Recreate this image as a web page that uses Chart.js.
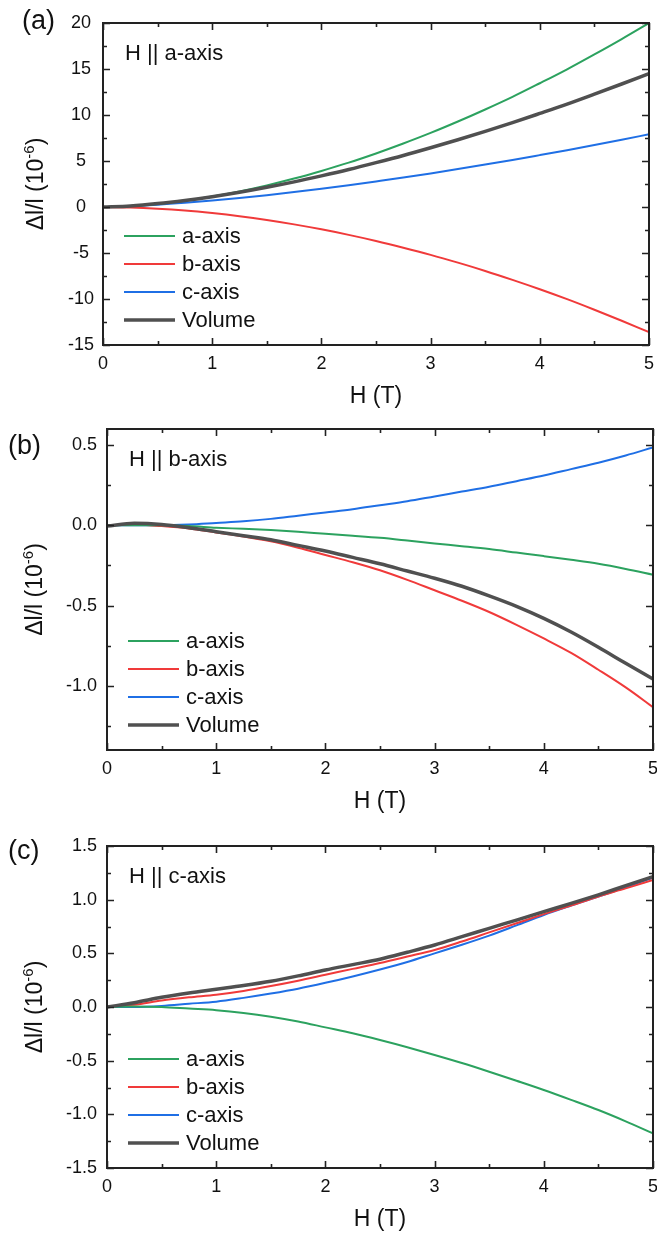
<!DOCTYPE html>
<html><head><meta charset="utf-8">
<script src="https://cdn.jsdelivr.net/npm/chart.js@4.4.1/dist/chart.umd.min.js"></script>
<style>
html,body{margin:0;padding:0;background:#fff;}
#wrap{position:relative;width:657px;height:1235px;overflow:hidden;background:#fff;}
canvas{position:absolute;left:0;}
</style></head><body>
<div id="wrap">
<canvas id="ca" width="657" height="410" style="top:0px"></canvas>
<canvas id="cb" width="657" height="412" style="top:410px"></canvas>
<canvas id="cc" width="657" height="413" style="top:822px"></canvas>
</div>
<script>
// ---------- data ----------
const fieldH = [0,0.25,0.5,0.75,1,1.25,1.5,1.75,2,2.25,2.5,2.75,3,3.25,3.5,3.75,4,4.25,4.5,4.75,5];
const seriesNames = ['a-axis','b-axis','c-axis','Volume'];
const seriesColors = ['#2ca25f','#f03a3a','#1f6fe5','#505050'];

// (a) H || a-axis
const aPanelA = [0,0.10,0.33,0.68,1.14,1.70,2.35,3.09,3.92,4.82,5.82,6.90,8.05,9.29,10.60,11.97,13.45,14.97,16.59,18.26,20.0];
const aPanelB = [0,-0.05,-0.18,-0.38,-0.66,-1.00,-1.41,-1.89,-2.43,-3.03,-3.69,-4.42,-5.20,-6.05,-6.95,-7.92,-8.94,-10.02,-11.17,-12.36,-13.6];
const aPanelC = [0,0.09,0.24,0.45,0.70,0.97,1.28,1.62,1.98,2.37,2.78,3.20,3.65,4.12,4.61,5.11,5.64,6.18,6.74,7.31,7.9];
const aPanelV = [0,0.12,0.37,0.71,1.12,1.60,2.14,2.73,3.38,4.07,4.82,5.60,6.44,7.31,8.22,9.17,10.17,11.19,12.27,13.37,14.5];

// (b) H || b-axis
const bPanelA = [0,0,0,-0.005,-0.015,-0.022,-0.03,-0.04,-0.053,-0.065,-0.078,-0.095,-0.113,-0.13,-0.148,-0.17,-0.192,-0.215,-0.24,-0.272,-0.308];
const bPanelB = [0,0.005,-0.005,-0.02,-0.045,-0.07,-0.10,-0.14,-0.185,-0.23,-0.28,-0.34,-0.405,-0.47,-0.54,-0.62,-0.705,-0.795,-0.9,-1.01,-1.133];
const bPanelC = [0,0,0,0.005,0.015,0.025,0.04,0.06,0.08,0.10,0.125,0.15,0.18,0.21,0.24,0.275,0.31,0.35,0.39,0.435,0.485];
const bPanelV = [-0.005,0.012,0.005,-0.015,-0.04,-0.065,-0.09,-0.125,-0.16,-0.2,-0.24,-0.285,-0.33,-0.38,-0.44,-0.505,-0.58,-0.665,-0.76,-0.86,-0.958];

// (c) H || c-axis
const cPanelA = [0,0.005,0,-0.015,-0.03,-0.055,-0.09,-0.135,-0.19,-0.245,-0.308,-0.375,-0.447,-0.522,-0.603,-0.687,-0.773,-0.865,-0.96,-1.065,-1.177];
const cPanelB = [0,0.02,0.06,0.09,0.115,0.15,0.195,0.245,0.3,0.355,0.41,0.47,0.531,0.61,0.695,0.78,0.865,0.945,1.03,1.105,1.184];
const cPanelC = [0,0,0.01,0.03,0.05,0.085,0.125,0.17,0.225,0.285,0.35,0.42,0.50,0.58,0.665,0.76,0.857,0.945,1.03,1.115,1.205];
const cPanelV = [0,0.04,0.09,0.13,0.165,0.2,0.24,0.29,0.345,0.395,0.445,0.51,0.578,0.655,0.733,0.81,0.888,0.965,1.045,1.13,1.214];

const xTicks = [0,1,2,3,4,5];
const yTicksA = [-15,-10,-5,0,5,10,15,20];
const yTicksB = [-1.0,-0.5,0.0,0.5];
const yTicksC = [-1.5,-1.0,-0.5,0.0,0.5,1.0,1.5];
const panelLabels = ['(a)','(b)','(c)'];
const panelNotes = ['H || a-axis','H || b-axis','H || c-axis'];
const xTitle = 'H (T)';
const yTitleMain = 'Δl/l (10';
const yTitleSup = '-6';
const yTitleEnd = ')';

// ---------- drawing ----------
const FONT = '"Liberation Sans", Arial, Helvetica, sans-serif';
const INK = '#111';

const decor = {
  id: 'decor',
  afterDraw(chart, args, o) {
    const {ctx, chartArea: a, scales: {x, y}} = chart;
    ctx.save();
    // inward ticks on all four sides
    ctx.strokeStyle = '#222';
    ctx.lineWidth = 1.6;
    const MAJ = 7, MIN = 4;
    ctx.beginPath();
    const xv = x.ticks.map(t => t.value);
    const xs = xv.length > 1 ? xv[1] - xv[0] : 1;
    const xMinor = [];
    xv.forEach(v => { xMinor.push(v - xs / 2); });
    xMinor.push(xv[xv.length - 1] + xs / 2);
    xv.forEach(v => {
      const p = Math.round(x.getPixelForValue(v)) + 0.5;
      ctx.moveTo(p, a.bottom); ctx.lineTo(p, a.bottom - MAJ);
      ctx.moveTo(p, a.top); ctx.lineTo(p, a.top + MAJ);
    });
    xMinor.forEach(v => {
      if (v <= x.min || v >= x.max) return;
      const p = Math.round(x.getPixelForValue(v)) + 0.5;
      ctx.moveTo(p, a.bottom); ctx.lineTo(p, a.bottom - MIN);
      ctx.moveTo(p, a.top); ctx.lineTo(p, a.top + MIN);
    });
    const yv = y.ticks.map(t => t.value);
    const ys = yv.length > 1 ? yv[1] - yv[0] : 1;
    const yMinor = [];
    yv.forEach(v => { yMinor.push(v - ys / 2); });
    yMinor.push(yv[yv.length - 1] + ys / 2);
    yv.forEach(v => {
      const p = Math.round(y.getPixelForValue(v)) + 0.5;
      ctx.moveTo(a.left, p); ctx.lineTo(a.left + MAJ, p);
      ctx.moveTo(a.right, p); ctx.lineTo(a.right - MAJ, p);
    });
    yMinor.forEach(v => {
      if (v <= y.min + 1e-9 || v >= y.max - 1e-9) return;
      const p = Math.round(y.getPixelForValue(v)) + 0.5;
      ctx.moveTo(a.left, p); ctx.lineTo(a.left + MIN, p);
      ctx.moveTo(a.right, p); ctx.lineTo(a.right - MIN, p);
    });
    ctx.stroke();
    // frame
    ctx.lineWidth = 2;
    ctx.strokeRect(a.left, a.top, a.right - a.left, a.bottom - a.top);

    // annotation inside
    ctx.fillStyle = INK;
    ctx.font = '22px ' + FONT;
    ctx.textAlign = 'left';
    ctx.textBaseline = 'middle';
    ctx.fillText(o.note, a.left + 22, a.top + 31);

    // panel label
    ctx.font = '27px ' + FONT;
    ctx.fillText(o.label, o.labelX, o.labelY);

    // legend
    ctx.font = '22px ' + FONT;
    const rows = [109, 81, 53, 25];
    chart.data.datasets.forEach((d, i) => {
      const yy = a.bottom - rows[i];
      ctx.strokeStyle = d.borderColor;
      ctx.lineWidth = d.borderWidth;
      ctx.beginPath();
      ctx.moveTo(a.left + 21, yy); ctx.lineTo(a.left + 72, yy);
      ctx.stroke();
      ctx.fillStyle = INK;
      ctx.fillText(d.label, a.left + 79, yy + 1);
    });

    // y title with superscript
    const cy = (a.top + a.bottom) / 2;
    ctx.translate(o.yTitleX, cy);
    ctx.rotate(-Math.PI / 2);
    ctx.textBaseline = 'alphabetic';
    ctx.font = '23px ' + FONT;
    const w1 = ctx.measureText(yTitleMain).width;
    ctx.font = '15px ' + FONT;
    const w2 = ctx.measureText(yTitleSup).width;
    ctx.font = '23px ' + FONT;
    const w3 = ctx.measureText(yTitleEnd).width;
    let sx = -(w1 + w2 + w3) / 2;
    ctx.fillStyle = INK;
    ctx.fillText(yTitleMain, sx, 0); sx += w1;
    ctx.font = '15px ' + FONT;
    ctx.fillText(yTitleSup, sx, -9); sx += w2;
    ctx.font = '23px ' + FONT;
    ctx.fillText(yTitleEnd, sx, 0);
    ctx.restore();
  }
};

function makePanel(id, series, yMin, yMax, yTicks, fmt, pad, yAlign, yPad, opts) {
  const datasets = series.map((vals, i) => ({
    label: seriesNames[i],
    data: fieldH.map((h, j) => ({x: h, y: vals[j]})),
    borderColor: seriesColors[i],
    backgroundColor: seriesColors[i],
    borderWidth: i === 3 ? 3.5 : 2,
    pointRadius: 0,
    fill: false,
    cubicInterpolationMode: 'monotone',
    order: i === 3 ? 0 : (i + 1)
  }));
  return new Chart(document.getElementById(id), {
    type: 'line',
    data: {datasets},
    options: {
      responsive: false,
      animation: false,
      devicePixelRatio: 1,
      layout: {padding: pad},
      plugins: {legend: {display: false}, tooltip: {enabled: false}, decor: opts},
      scales: {
        x: {
          type: 'linear', min: 0, max: 5,
          afterBuildTicks: s => { s.ticks = xTicks.map(v => ({value: v})); },
          afterFit: s => { s.height = 65; s.paddingLeft = 0; s.paddingRight = 0; },
          grid: {display: false, drawTicks: false},
          border: {display: false},
          ticks: {font: {size: 18, family: FONT}, color: INK, padding: 8, maxRotation: 0,
                  callback: v => String(v)},
          title: {display: true, text: xTitle, font: {size: 23, family: FONT}, color: INK, padding: 0}
        },
        y: {
          type: 'linear', min: yMin, max: yMax,
          afterBuildTicks: s => { s.ticks = yTicks.map(v => ({value: v})); },
          afterFit: s => { s.width = 60; s.paddingTop = 0; s.paddingBottom = 0; },
          grid: {display: false, drawTicks: false},
          border: {display: false},
          ticks: {font: {size: 18, family: FONT}, color: INK, padding: yPad, crossAlign: yAlign,
                  callback: v => fmt(v)},
          title: {display: false}
        }
      }
    },
    plugins: [decor]
  });
}

const intFmt = v => String(Math.round(v));
const decFmt = v => (Math.abs(v) < 1e-9 ? 0 : v).toFixed(1);

makePanel('ca', [aPanelA, aPanelB, aPanelC, aPanelV], -15, 20, yTicksA, intFmt,
  {left: 43, right: 8, top: 23, bottom: 0}, 'center', 9,
  {note: panelNotes[0], label: panelLabels[0], labelX: 22, labelY: 22, yTitleX: 43});
makePanel('cb', [bPanelA, bPanelB, bPanelC, bPanelV], -1.4, 0.6, yTicksB, decFmt,
  {left: 47, right: 4, top: 19, bottom: 7}, 'near', 10,
  {note: panelNotes[1], label: panelLabels[1], labelX: 8, labelY: 37, yTitleX: 42});
makePanel('cc', [cPanelA, cPanelB, cPanelC, cPanelV], -1.5, 1.5, yTicksC, decFmt,
  {left: 47, right: 4, top: 24, bottom: 2}, 'near', 10,
  {note: panelNotes[2], label: panelLabels[2], labelX: 8, labelY: 30, yTitleX: 42});
</script>
</body></html>
